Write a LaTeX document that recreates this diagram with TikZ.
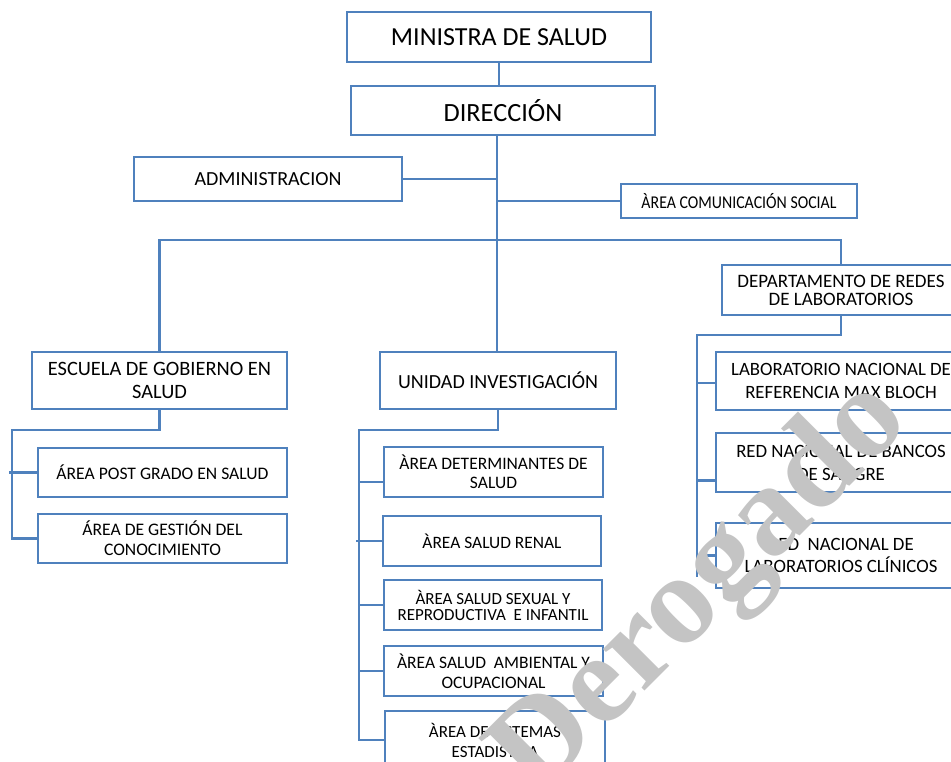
\documentclass[tikz,border=0pt]{standalone}
\usepackage{fontspec}
\setmainfont{Carlito}
\newfontfamily\narrowfont[FakeStretch=0.88]{Carlito}
\newfontfamily\stampfont{Liberation Serif}
\usetikzlibrary{positioning}
\definecolor{orgblue}{RGB}{79,129,189}
\definecolor{stampgray}{RGB}{196,196,196}
\newcommand{\boxfont}[2]{\fontsize{#1}{#2}\selectfont}

\begin{document}
\begin{tikzpicture}[
    x=1pt, y=-1pt,
    unit/.style = {
      draw = orgblue,
      fill = white,
      text = black,
      align = center,
      inner sep = 0pt,
      line width = 2.8pt
    },
    link/.style = {
      draw = orgblue,
      line width = 2.8pt
    }
  ]
  \useasboundingbox (0,0) rectangle (951,761);
  \clip (0,0) rectangle (951,761);

  % top of the chart
  \node[unit, minimum width=304, minimum height=50, font=\boxfont{26}{28}] (min) at (499,37) {MINISTRA DE SALUD};
  \node[unit, minimum width=304, minimum height=49, font=\boxfont{26.3}{28}] (dir) at (503,110.5) {DIRECCIÓN};
  \node[unit, minimum width=268, minimum height=44, font=\boxfont{20}{24}] (adm) at (268,179) {ADMINISTRACION};
  \node[unit, minimum width=236, minimum height=34, font=\narrowfont\boxfont{18}{20}] (com) at (739,201) {ÀREA COMUNICACIÓN SOCIAL};

  % second level
  \node[unit, minimum width=255, minimum height=57, font=\boxfont{20.4}{23}] (esc) at (159.5,380.5) {ESCUELA DE GOBIERNO EN\\SALUD};
  \node[unit, minimum width=236, minimum height=57, font=\boxfont{20}{23}] (uni) at (498,380.5) {UNIDAD INVESTIGACIÓN};
  \node[unit, minimum width=238, minimum height=50, font=\boxfont{19}{18}] (dep) at (841,290) {DEPARTAMENTO DE REDES\\DE LABORATORIOS};

  % escuela
  \node[unit, minimum width=249, minimum height=49, font=\boxfont{17.6}{20}] (post) at (162.5,472.5) {ÁREA POST GRADO EN SALUD};
  \node[unit, minimum width=249, minimum height=49, font=\boxfont{17.6}{20}] (gest) at (162.5,538.5) {ÁREA DE GESTIÓN DEL\\CONOCIMIENTO};

  % unidad
  \node[unit, minimum width=219, minimum height=50, font=\boxfont{17.5}{19}] (det) at (493.5,472) {ÀREA DETERMINANTES DE\\SALUD};
  \node[unit, minimum width=218, minimum height=50, font=\boxfont{17.4}{19}] (ren) at (492,541) {ÀREA SALUD RENAL};
  \node[unit, minimum width=218, minimum height=50, font=\boxfont{17}{16}] (sex) at (493,605) {ÀREA SALUD SEXUAL Y\\REPRODUCTIVA\ \ E INFANTIL};
  \node[unit, minimum width=219, minimum height=50, font=\boxfont{17.5}{20}] (amb) at (493.5,671) {ÀREA SALUD\ \ AMBIENTAL Y\\OCUPACIONAL};
  \node[unit, minimum width=220, minimum height=58, font=\boxfont{17}{20}] (est) at (495,740) {ÀREA DE SISTEMAS\\ESTADISTICA};

  % departamento
  \node[unit, minimum width=250, minimum height=58, font=\boxfont{18.8}{23}] (lab) at (841,381) {LABORATORIO NACIONAL DE\\REFERENCIA MAX BLOCH};
  \node[unit, minimum width=250, minimum height=59, font=\boxfont{18.8}{23}] (ban) at (841,462.5) {RED NACIONAL DE BANCOS\\DE SANGRE};
  \node[unit, minimum width=250, minimum height=65, font=\boxfont{18.8}{22}] (cli) at (841,555.5) {RED\ \ NACIONAL DE\\LABORATORIOS CLÍNICOS};

  % connectors
  \coordinate (bus) at (497,240);
  \coordinate (escrail) at (12,430);
  \coordinate (unirail) at (359,430);
  \coordinate (deprail) at (697,335);
  \coordinate (depend) at (697,577);

  \draw[link] (min.south) -- (min.south |- dir.north);
  \draw[link] (dir.south -| bus) -- (bus |- uni.north);
  \draw[link] (adm.east) -- (adm.east -| bus);
  \draw[link] (com.west) -- (com.west -| bus);
  \draw[link] (esc.north) |- (bus) -| (dep.north);

  \draw[link] (esc.south) |- (escrail) |- (gest.west);
  \draw[link] ([xshift=-3pt]escrail |- post.west) -- (post.west);

  \draw[link] (uni.south) |- (unirail) |- (est.west);
  \draw[link] ([yshift=-10pt]det.west) -- ([yshift=-10pt]det.west -| unirail);
  \draw[link] ([xshift=-3pt]unirail |- ren.west) -- (ren.west);
  \draw[link] (sex.west) -- (sex.west -| unirail);
  \draw[link] (amb.west) -- (amb.west -| unirail);

  \draw[link] (dep.south) |- (deprail) -- (depend);
  \draw[link] ([yshift=-2pt]lab.west) -- ([yshift=-2pt]lab.west -| deprail);
  \draw[link] ([yshift=-18pt]ban.west) -- ([yshift=-18pt]ban.west -| deprail);
  \draw[link] (cli.west) -- (cli.west -| deprail);

  % stamp over the chart
  \node[text=stampgray, font=\stampfont\bfseries\boxfont{128}{128}, rotate=45] (stamp) at (703,590) {Derogado};
\end{tikzpicture}
\end{document}
